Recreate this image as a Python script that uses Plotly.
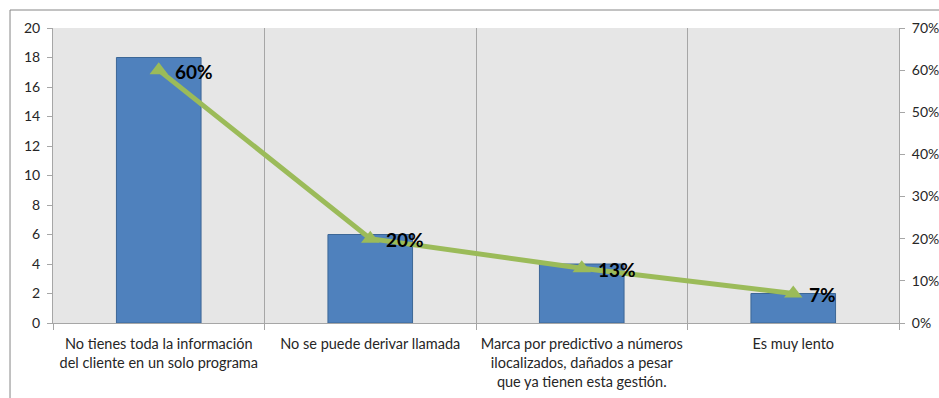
import plotly.graph_objects as go

# Problemas reportados: frecuencia y porcentaje
categorias = [
    "No tienes toda la información<br>del cliente en un solo programa",
    "No se puede derivar llamada",
    "Marca por predictivo a números<br>ilocalizados, dañados a pesar<br>que ya tienen esta gestión.",
    "Es muy lento",
]
frecuencia = [18, 6, 4, 2]
porcentaje = [60, 20, 13, 7]
etiquetas_pct = [f"{p}%" for p in porcentaje]

left_ticks = list(range(0, 21, 2))
right_ticks = list(range(0, 71, 10))

FONT = "Lato"
AXIS_GRAY = "#A6A6A6"
TXT = "#262626"

fig = go.Figure()

fig.add_trace(go.Bar(
    x=categorias,
    y=frecuencia,
    width=0.4,
    marker=dict(color="#4F81BD", line=dict(color="#3C6796", width=1)),
    yaxis="y",
    showlegend=False,
))

fig.add_trace(go.Scatter(
    x=categorias,
    y=porcentaje,
    mode="lines+markers",
    line=dict(color="#9BBB59", width=5),
    marker=dict(symbol="triangle-up", size=16, color="#9BBB59"),
    yaxis="y2",
    showlegend=False,
    cliponaxis=False,
))

annotations = [
    dict(x=c, y=p, xref="x", yref="y2", text=t, showarrow=False,
         xanchor="left", yanchor="middle", xshift=14, yshift=-1,
         font=dict(family=FONT, size=19, color="#000000", weight="bold"))
    for c, p, t in zip(categorias, porcentaje, etiquetas_pct)
]

fig.update_layout(
    width=939,
    height=398,
    margin=dict(l=53, r=40, t=28, b=75),
    paper_bgcolor="#FFFFFF",
    plot_bgcolor="#E6E6E6",
    font=dict(family=FONT, size=14, color=TXT),
    xaxis=dict(
        automargin=False,
        tickangle=0,
        tickson="boundaries",
        ticks="outside",
        ticklen=6,
        tickcolor=AXIS_GRAY,
        showgrid=True,
        gridcolor="#A6A6A6",
        gridwidth=1,
        showline=True,
        linecolor=AXIS_GRAY,
        ticklabelstandoff=8,
        tickfont=dict(family=FONT, size=14.5, color=TXT),
    ),
    yaxis=dict(
        automargin=False,
        range=[0, 20],
        tickvals=left_ticks,
        ticks="outside",
        ticklen=5,
        tickcolor=AXIS_GRAY,
        showgrid=False,
        showline=True,
        linecolor=AXIS_GRAY,
        zeroline=False,
        ticklabelstandoff=4,
        tickfont=dict(family=FONT, size=14, color=TXT),
    ),
    yaxis2=dict(
        automargin=False,
        range=[0, 70],
        tickvals=right_ticks,
        ticktext=[f"{t}%" for t in right_ticks],
        overlaying="y",
        side="right",
        ticks="outside",
        ticklen=5,
        tickcolor=AXIS_GRAY,
        showgrid=False,
        showline=True,
        linecolor=AXIS_GRAY,
        zeroline=False,
        ticklabelstandoff=4,
        tickfont=dict(family=FONT, size=14, color=TXT),
    ),
    annotations=annotations,
    shapes=[
        # chart frame (top and left edges)
        dict(type="line", xref="paper", yref="paper",
             x0=-0.0508, x1=1.06, y0=1.061, y1=1.061,
             line=dict(color="#868686", width=1)),
        dict(type="line", xref="paper", yref="paper",
             x0=-0.0508, x1=-0.0508, y0=1.061, y1=-0.3,
             line=dict(color="#868686", width=1)),
    ],
)

fig.write_html("out.html")
